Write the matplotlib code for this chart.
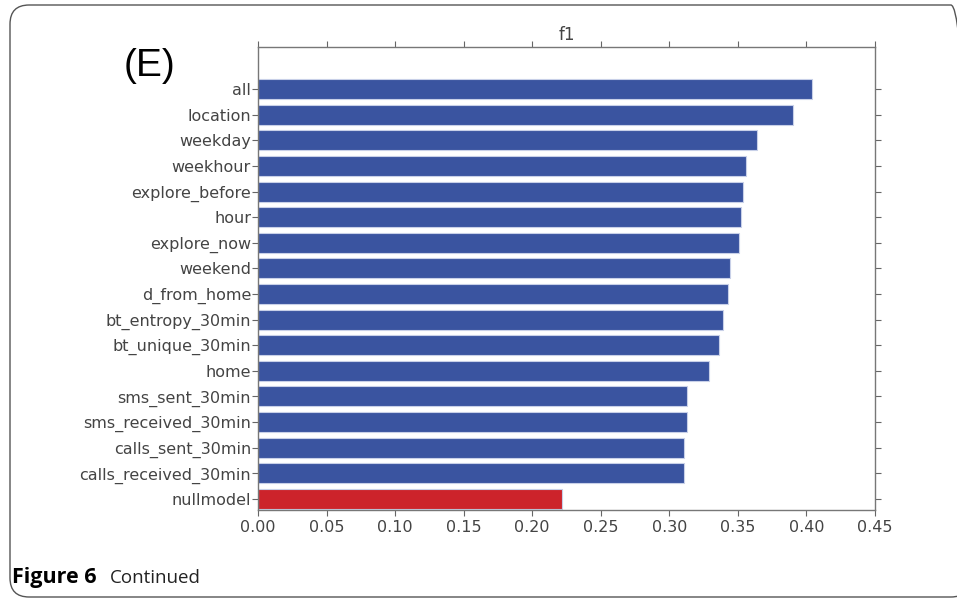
import matplotlib
matplotlib.use("Agg")
import matplotlib.pyplot as plt
from matplotlib.patches import FancyBboxPatch

features = ["all", "location", "weekday", "weekhour", "explore_before", "hour",
            "explore_now", "weekend", "d_from_home", "bt_entropy_30min",
            "bt_unique_30min", "home", "sms_sent_30min", "sms_received_30min",
            "calls_sent_30min", "calls_received_30min", "nullmodel"]
f1_scores = [0.404, 0.390, 0.364, 0.356, 0.354, 0.352, 0.351, 0.344, 0.343,
             0.339, 0.336, 0.329, 0.313, 0.313, 0.311, 0.311, 0.222]
xticks = [0.00, 0.05, 0.10, 0.15, 0.20, 0.25, 0.30, 0.35, 0.40, 0.45]

blue = "#3a54a0"
red = "#cc232b"
grey = "#444444"

fig = plt.figure(figsize=(9.57, 6.02), dpi=100)
ax = fig.add_axes([258 / 957, 1 - 510 / 602, 617 / 957, 463 / 602])

n = len(features)
ypos = list(range(n - 1, -1, -1))
colors = [red if f == "nullmodel" else blue for f in features]
ax.barh(ypos, f1_scores, height=0.78, color=colors, edgecolor="#c8d0e8", linewidth=0.8)

ax.set_xlim(0, 0.45)
ax.set_ylim(-0.43, n - 1 + 1.64)
ax.set_yticks(ypos)
ax.set_yticklabels(features)
ax.set_xticks(xticks)
ax.set_xticklabels([f"{t:.2f}" for t in xticks])

ax.tick_params(axis="both", colors="#666666", labelcolor=grey, labelsize=11.5,
               direction="out", length=4, width=0.8)
ax.tick_params(axis="y", pad=1)
ax.tick_params(top=True, right=True)
for s in ax.spines.values():
    s.set_color("#777777")
    s.set_linewidth(1.0)

ax.set_title("f1", fontsize=12, color=grey, pad=5)

fig.text(124 / 957, 1 - 66 / 602, "(E)", fontsize=28, family="Liberation Sans",
         va="center", ha="left", color="black")

# caption below the panel
fig.text(12 / 957, 1 - 578 / 602, "Figure 6", fontsize=15.5, fontweight="bold",
         family="Open Sans", va="center", ha="left", color="black")
fig.text(110 / 957, 1 - 578 / 602, "Continued", fontsize=13.5,
         family="Open Sans", va="center", ha="left", color="#222222")

frame = FancyBboxPatch((10 / 957, 5 / 602), 960 / 957, 592 / 602,
                       boxstyle="round,pad=0,rounding_size=0.02",
                       transform=fig.transFigure, fill=False,
                       edgecolor="#555555", linewidth=1.0, mutation_aspect=957 / 602)
fig.patches.append(frame)

fig.savefig("out.png", dpi=100)
